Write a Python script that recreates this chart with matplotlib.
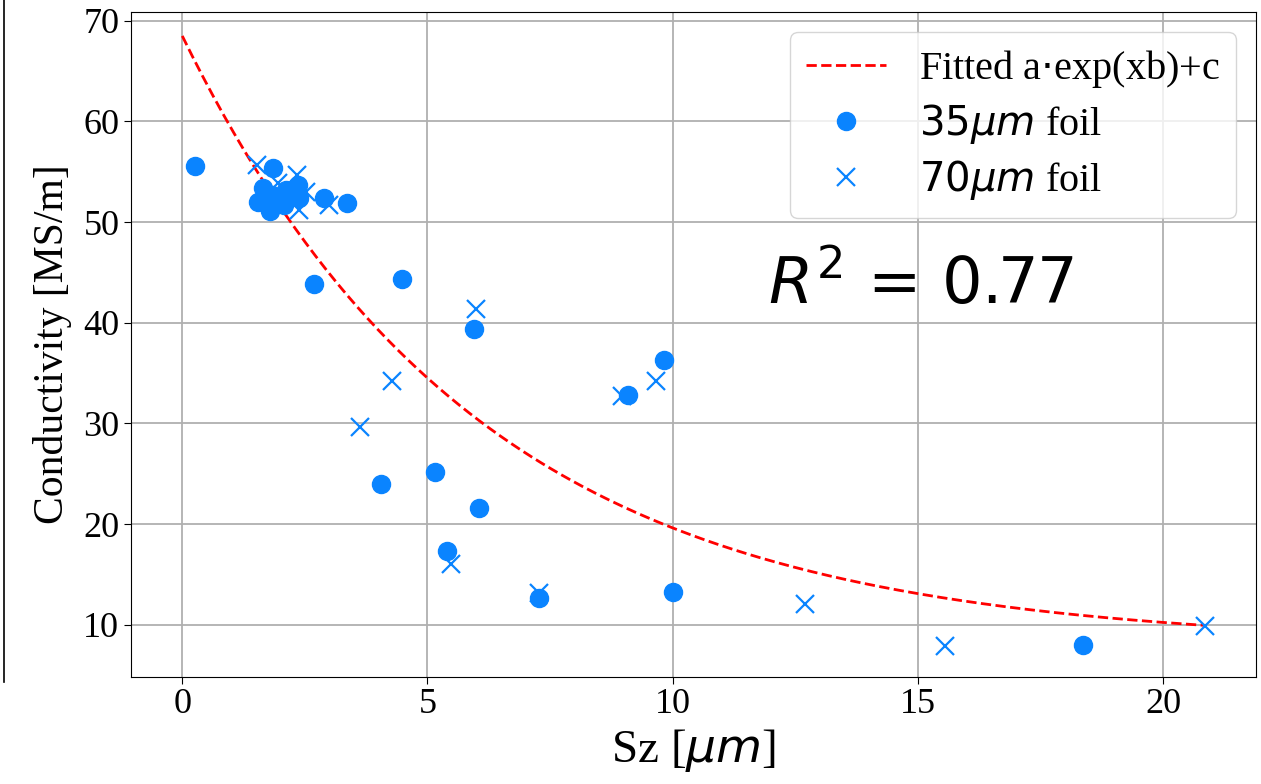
import numpy as np
import matplotlib
matplotlib.use("Agg")
import matplotlib.pyplot as plt
from matplotlib.lines import Line2D

# 35um foil samples (Sz in um, conductivity in MS/m)
sz_35 = [0.25, 4.49, 2.69, 5.95, 9.82, 9.08, 4.05, 5.15, 6.05, 5.39, 7.27, 10.01, 18.37,
         1.84, 1.65, 1.55, 1.78, 1.98, 2.12, 2.35, 2.39, 2.08, 1.82, 2.88, 3.35]
cond_35 = [55.6, 44.35, 43.9, 39.4, 36.3, 32.8, 24.0, 25.2, 21.6, 17.3, 12.7, 13.3, 8.0,
           55.4, 53.4, 52.0, 51.1, 52.4, 53.2, 53.7, 52.4, 51.7, 52.7, 52.4, 51.9]

# 70um foil samples
sz_70 = [1.53, 2.33, 2.39, 2.53, 3.0, 1.95, 5.99, 4.27, 3.63, 5.47, 7.27, 8.96, 9.65,
         12.7, 15.55, 20.85]
cond_70 = [55.7, 54.7, 51.2, 53.0, 51.7, 53.9, 41.4, 34.2, 29.65, 16.0, 13.2, 32.7, 34.2,
           12.1, 7.84, 9.92]

# fit parameters a*exp(x*b)+c
fit_a = 60.5
fit_b = -0.165
fit_c = 8.0
r2_text = r"$R^2$ = 0.77"

blue = "#0a84ff"

plt.rcParams["font.family"] = ["Liberation Serif", "DejaVu Sans"]
plt.rcParams["mathtext.fontset"] = "dejavusans"

fig, ax = plt.subplots(figsize=(12.61, 7.84), dpi=100)
fig.subplots_adjust(left=0.104, right=0.996, top=0.985, bottom=0.137)

all_x = np.array(sz_35 + sz_70)
xs = np.linspace(0, all_x.max(), 300)
ax.plot(xs, fit_a * np.exp(xs * fit_b) + fit_c, "--", color="red", lw=2,
        label="Fitted a$\\cdot$exp(xb)+c", zorder=3)
ax.plot(sz_35, cond_35, "o", color=blue, ms=13, ls="none",
        label=r"$35\mu m$ foil", zorder=4)
ax.plot(sz_70, cond_70, "x", color=blue, ms=13, mew=1.6, ls="none",
        label=r"$70\mu m$ foil", zorder=4)

ax.set_xticks([0, 5, 10, 15, 20])
ax.set_yticks([10, 20, 30, 40, 50, 60, 70])
ax.set_ylim(4.85, 70.9)
ax.grid(True, color="#b0b0b0", lw=1.3)
ax.set_axisbelow(True)
ax.tick_params(labelsize=26, length=5)
ax.set_xlabel(r"Sz [$\mu m$]", fontsize=34, labelpad=4)
ax.set_ylabel("Conductivity [MS/m]", fontsize=30, labelpad=8)

ax.text(0.566, 0.56, r2_text, transform=ax.transAxes, fontsize=46,
        family="DejaVu Sans", math_fontfamily="dejavusans")

leg = ax.legend(loc="upper right", fontsize=29, markerscale=1.0,
                handlelength=2.0, borderpad=0.4, labelspacing=0.3)

# edge of a neighbouring panel that was cut off in the original figure
fig.add_artist(Line2D([0.003, 0.003], [0.13, 1.0], color="black", lw=1.2))

fig.savefig("out.png", dpi=100)
